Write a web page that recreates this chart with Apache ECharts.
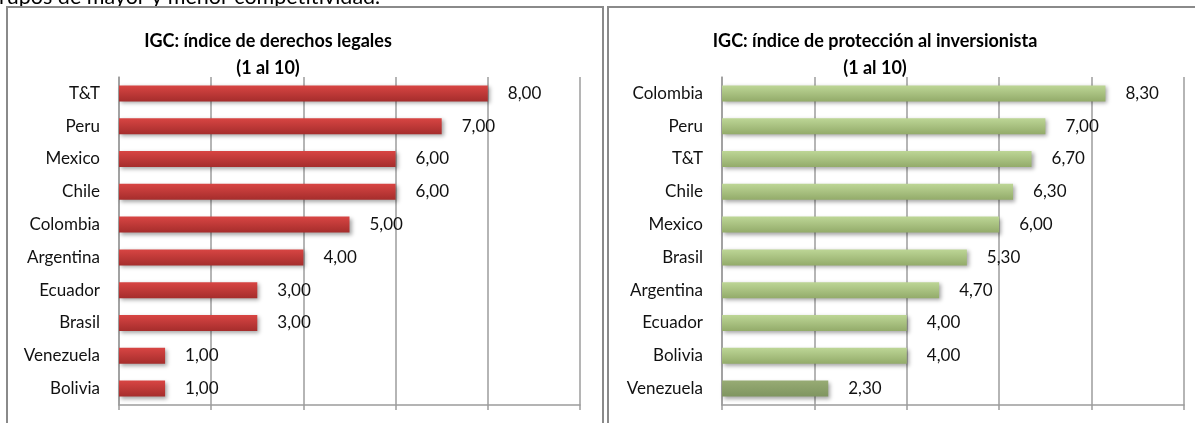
<!DOCTYPE html>
<html>
<head>
<meta charset="utf-8">
<script src="https://cdn.jsdelivr.net/npm/echarts@6/dist/echarts.min.js"></script>
<style>
  html, body { margin: 0; padding: 0; background: #fff; }
  #chart { width: 1195px; height: 423px; }
</style>
</head>
<body>
<div id="chart"></div>
<script>
// datos
const legalCats = ['T&T', 'Peru', 'Mexico', 'Chile', 'Colombia', 'Argentina', 'Ecuador', 'Brasil', 'Venezuela', 'Bolivia']
const legalVals = [8, 7, 6, 6, 5, 4, 3, 3, 1, 1]

const invCats = ['Colombia', 'Peru', 'T&T', 'Chile', 'Mexico', 'Brasil', 'Argentina', 'Ecuador', 'Bolivia', 'Venezuela']
const invVals = [8.3, 7.0, 6.7, 6.3, 6.0, 5.3, 4.7, 4.0, 4.0, 2.3]

const FONT = 'Lato'
const gridColor = '#9c9c9c'

const chart = echarts.init(document.getElementById('chart'))

const fmt = p => p.value.toFixed(2).replace('.', ',')

const grad = (top, bottom) => new echarts.graphic.LinearGradient(0, 0, 0, 1, [
  { offset: 0, color: top },
  { offset: 1, color: bottom }
])

const redBar = grad('#d84543', '#a52d2c')
const greenBar = grad('#bdd696', '#93ab6a')
const greenDark = grad('#97ab74', '#7f9560')

const xAxisBase = (gridIndex) => ({
  type: 'value',
  gridIndex,
  min: 0,
  max: 10,
  interval: 2,
  axisLabel: { show: false },
  axisLine: { show: true, lineStyle: { color: gridColor, width: 1.5 } },
  axisTick: { show: true, length: 5, lineStyle: { color: gridColor, width: 1.5 } },
  splitLine: { show: true, lineStyle: { color: gridColor, width: 1.5 } }
})

const yAxisBase = (gridIndex, data) => ({
  type: 'category',
  gridIndex,
  data,
  inverse: true,
  axisLine: { show: true, lineStyle: { color: gridColor, width: 1.5 } },
  axisTick: { show: false },
  axisLabel: { color: '#111', fontFamily: FONT, fontSize: 17, margin: 19 }
})

const barStyle = {
  shadowColor: 'rgba(0,0,0,0.35)',
  shadowBlur: 4,
  shadowOffsetX: 2,
  shadowOffsetY: 2
}

const labelStyle = {
  show: true,
  position: 'right',
  distance: 20,
  formatter: fmt,
  color: '#111',
  fontFamily: FONT,
  fontSize: 17
}

const lastInv = invCats.indexOf('Venezuela')

const titleText = { fontFamily: FONT, fontSize: 18, fontWeight: 'bold', color: '#000', lineHeight: 27 }

const option = {
  animation: false,
  title: [
    {
      text: 'IGC: índice de derechos legales\n(1 al 10)',
      left: 268,
      top: 28,
      padding: 0,
      textAlign: 'center',
      textStyle: titleText
    },
    {
      text: 'IGC: índice de protección al inversionista\n(1 al 10)',
      left: 875,
      top: 28,
      padding: 0,
      textAlign: 'center',
      textStyle: titleText
    }
  ],
  graphic: [
    {
      type: 'text',
      left: -1,
      top: -14,
      style: { text: 'rupos de mayor y menor competitividad.', fontFamily: FONT, fontSize: 21.5, fill: '#000' }
    },
    {
      type: 'rect',
      shape: { x: 7, y: 7, width: 596, height: 430 },
      style: { fill: 'none', stroke: '#8a8a8a', lineWidth: 2 }
    },
    {
      type: 'rect',
      shape: { x: 608, y: 7, width: 620, height: 430 },
      style: { fill: 'none', stroke: '#8a8a8a', lineWidth: 2 }
    }
  ],
  grid: [
    { left: 119, top: 77, width: 461, height: 328 },
    { left: 722, top: 77, width: 462, height: 328 }
  ],
  xAxis: [xAxisBase(0), xAxisBase(1)],
  yAxis: [yAxisBase(0, legalCats), yAxisBase(1, invCats)],
  series: [
    {
      type: 'bar',
      xAxisIndex: 0,
      yAxisIndex: 0,
      data: legalVals,
      barWidth: 16,
      itemStyle: Object.assign({ color: redBar }, barStyle),
      label: labelStyle
    },
    {
      type: 'bar',
      xAxisIndex: 1,
      yAxisIndex: 1,
      data: invVals.map((v, i) => i === lastInv ? { value: v, itemStyle: { color: greenDark } } : v),
      barWidth: 16,
      itemStyle: Object.assign({ color: greenBar }, barStyle),
      label: labelStyle
    }
  ]
}

chart.setOption(option)
</script>
</body>
</html>
